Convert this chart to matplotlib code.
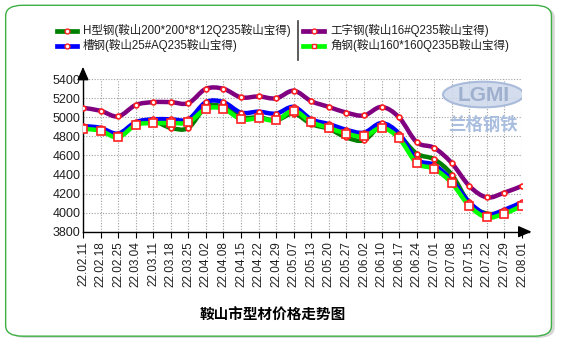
import matplotlib
matplotlib.use("Agg")
import matplotlib.pyplot as plt
from matplotlib.path import Path
from matplotlib.patches import PathPatch, FancyBboxPatch, Ellipse
from matplotlib.lines import Line2D

plt.rcParams['font.family'] = ['Liberation Sans', 'Noto Sans CJK SC', 'DejaVu Sans']

dates = ["22.02.11", "22.02.18", "22.02.25", "22.03.04", "22.03.11", "22.03.18",
         "22.03.25", "22.04.02", "22.04.08", "22.04.15", "22.04.22", "22.04.29",
         "22.05.07", "22.05.13", "22.05.20", "22.05.27", "22.06.02", "22.06.10",
         "22.06.17", "22.06.24", "22.07.01", "22.07.08", "22.07.15", "22.07.22",
         "22.07.29", "22.08.01"]

h_steel = [4900, 4880, 4810, 4930, 4960, 4890, 4890, 5110, 5110, 5000, 5000, 4970, 5040,
           4930, 4880, 4790, 4760, 4910, 4810, 4620, 4560, 4400, 4100, 3990, 4010, 4090]
i_beam = [5100, 5070, 5010, 5130, 5160, 5160, 5150, 5300, 5300, 5210, 5220, 5200, 5280,
          5170, 5110, 5050, 5020, 5110, 5000, 4740, 4680, 4520, 4280, 4160, 4210, 4280]
channel = [4910, 4890, 4830, 4950, 4980, 4980, 4980, 5160, 5160, 5050, 5060, 5040, 5110,
           4980, 4930, 4870, 4840, 4940, 4830, 4560, 4500, 4340, 4110, 3980, 4030, 4110]
angle = [4880, 4860, 4790, 4920, 4940, 4940, 4950, 5090, 5090, 4980, 4990, 4970, 5070,
         4950, 4890, 4830, 4800, 4890, 4780, 4520, 4460, 4310, 4070, 3950, 3990, 4070]

names = ["H型钢(鞍山200*200*8*12Q235鞍山宝得)", "工字钢(鞍山16#Q235鞍山宝得)",
         "槽钢(鞍山25#AQ235鞍山宝得)", "角钢(鞍山160*160Q235B鞍山宝得)"]
colors = ["#008000", "#800080", "#0000ff", "#00ff00"]
series = [h_steel, i_beam, channel, angle]
marks = ["o", "o", "o", "s"]
msizes = [3.5, 3.5, 3.5, 5.5]


def smooth_path(xs, ys):
    # catmull-rom through the points, as cubic bezier segments
    pts = list(zip(xs, ys))
    verts = [pts[0]]
    codes = [Path.MOVETO]
    n = len(pts)
    for i in range(n - 1):
        p0 = pts[max(i - 1, 0)]
        p1 = pts[i]
        p2 = pts[i + 1]
        p3 = pts[min(i + 2, n - 1)]
        c1 = (p1[0] + (p2[0] - p0[0]) / 6, p1[1] + (p2[1] - p0[1]) / 6)
        c2 = (p2[0] - (p3[0] - p1[0]) / 6, p2[1] - (p3[1] - p1[1]) / 6)
        verts += [c1, c2, p2]
        codes += [Path.CURVE4] * 3
    return Path(verts, codes)


fig = plt.figure(figsize=(5.65, 3.52), dpi=100)

# rounded green frame
fig.patches.append(FancyBboxPatch((0.016, 0.04), 0.966, 0.94, boxstyle="round,pad=0,rounding_size=0.03",
                                  transform=fig.transFigure, facecolor="#b0b0b0", edgecolor="none",
                                  alpha=0.5, zorder=-3))
fig.patches.append(FancyBboxPatch((0.01, 0.045), 0.966, 0.94, boxstyle="round,pad=0,rounding_size=0.03",
                                  transform=fig.transFigure, facecolor="white", edgecolor="#3cb043",
                                  linewidth=1, zorder=-2))

ax = fig.add_axes([0.1469, 0.3418, 0.9239 - 0.1469, 0.7747 - 0.3418])
ax.set_facecolor("none")
x = list(range(len(dates)))

# watermark
ax.add_patch(Ellipse((22.8, 5240), 4.6, 270, facecolor="#ccd8ec", edgecolor="#9fb3d6",
                     linewidth=1.5, alpha=0.85, zorder=1))
ax.text(22.8, 5235, "LGMI", ha="center", va="center", fontsize=15, color="#9fb0cf",
        fontweight="bold", zorder=1)
ax.text(22.75, 4930, "兰格钢铁", ha="center", va="center", fontsize=12.5, color="#a9bedf",
        fontstyle="italic", fontweight="bold", zorder=1)

for ys, c, m, ms in zip(series, colors, marks, msizes):
    ax.add_patch(PathPatch(smooth_path(x, ys), facecolor="none", edgecolor=c, linewidth=3.2,
                           capstyle="round", joinstyle="round", zorder=3))
    ax.plot(x, ys, linestyle="none", marker=m, markersize=ms, markerfacecolor="white",
            markeredgecolor="#ff2020", markeredgewidth=1.2, zorder=4)

ax.set_xlim(0, 25)
ax.set_ylim(3800, 5400)
ax.set_yticks(range(3800, 5401, 200))
ax.set_xticks(x)
ax.set_xticklabels(dates, rotation=90, fontsize=8.5, color="#202020")
ax.tick_params(axis="y", length=0, pad=2, labelsize=9, labelcolor="#202020")
ax.tick_params(axis="x", length=4, width=0.8, pad=3)
ax.grid(True, color="#a0a0a0", linestyle=(0, (1, 1.5)), linewidth=0.8)
ax.set_axisbelow(True)
for s in ["top", "right"]:
    ax.spines[s].set_visible(False)
ax.spines["left"].set_linewidth(1)
ax.spines["bottom"].set_linewidth(1)
ax.spines["bottom"].set_bounds(0, 25.4)

# axis arrows
ax.annotate("", xy=(1.028, 0), xycoords="axes fraction", xytext=(1.0, 0),
            arrowprops=dict(arrowstyle="-|>,head_length=0.8,head_width=0.35", color="black", lw=1),
            annotation_clip=False)
ax.annotate("", xy=(0, 1.1), xycoords="axes fraction", xytext=(0, 0.99),
            arrowprops=dict(arrowstyle="-|>,head_length=0.8,head_width=0.35", color="black", lw=1),
            annotation_clip=False)

# legend drawn by hand
rows = [(0.1, 0.913, 0), (0.1, 0.870, 2), (0.537, 0.913, 1), (0.537, 0.870, 3)]
for lx, ly, k in rows:
    fig.add_artist(Line2D([lx, lx + 0.037], [ly, ly], color=colors[k], linewidth=3.4,
                          transform=fig.transFigure))
    fig.add_artist(Line2D([lx + 0.0185], [ly], marker=marks[k], markersize=3.5,
                          markerfacecolor="white", markeredgecolor="#ff2020",
                          markeredgewidth=1, transform=fig.transFigure))
    fig.text(lx + 0.047, ly, names[k], fontsize=8.3, va="center", ha="left", color="#202020")
fig.add_artist(Line2D([0.527, 0.527], [0.83, 0.94], color="#404040", linewidth=1.2,
                      transform=fig.transFigure))

fig.text(0.483, 0.105, "鞍山市型材价格走势图", ha="center", va="center", fontsize=10.5,
         fontweight="bold", family=["Noto Sans CJK SC"], color="black")

fig.savefig("out.png", dpi=100)
